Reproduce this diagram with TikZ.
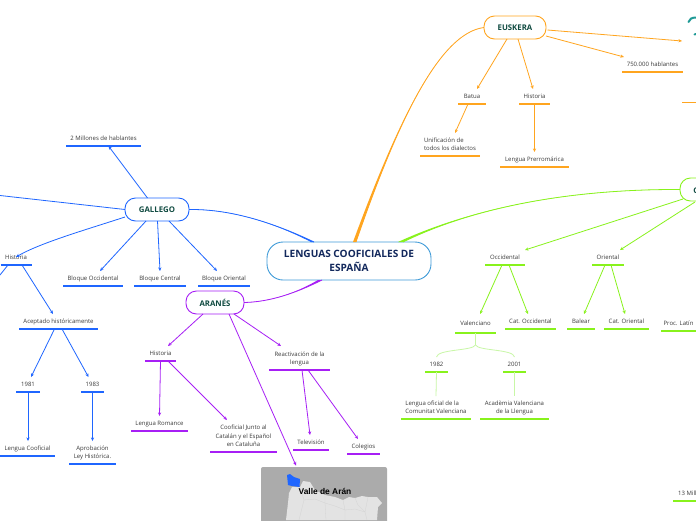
\documentclass[tikz,border=0pt]{standalone}
\usepackage{fontspec}
\setmainfont{Open Sans}
\newfontfamily\mapfont{Liberation Sans}
\usetikzlibrary{arrows.meta,calc}
\definecolor{cgal}{HTML}{1F66FF}
\definecolor{car}{HTML}{A71FF5}
\definecolor{ceu}{HTML}{FFA51F}
\definecolor{ccat}{HTML}{88F21C}
\definecolor{clight}{HTML}{C8F7A6}
\definecolor{croot}{HTML}{3F9BD8}
\definecolor{trootc}{HTML}{12285C}
\definecolor{tsub}{HTML}{0F4A40}
\definecolor{tleaf}{HTML}{3A3A3A}
\definecolor{cteal}{HTML}{1F9A96}
\tikzset{
  leafn/.style={inner sep=0pt,outer sep=0pt,anchor=south,text=tleaf,font=\fontsize{6}{8.3}\selectfont},
  ul/.style={line width=1.4pt},
  conn/.style={-{Stealth[length=3.6pt,width=3.2pt]},line width=.8pt},
  plain/.style={line width=.8pt},
  thin link/.style={line width=.8pt,clight},
  subnode/.style={draw,fill=white,line width=.9pt,rounded corners=10.5pt,inner sep=0pt,outer sep=0pt,text=tsub,font=\fontsize{7.8}{9}\bfseries\selectfont},
  rootnode/.style={draw=croot,fill=white,line width=.9pt,rounded corners=16pt,inner sep=0pt,outer sep=0pt,text=trootc,align=center,font=\fontsize{10.1}{14}\bfseries\selectfont,minimum width=164pt,minimum height=38pt},
}
% [column]{name}{cx,underline y}{width}{height}{colour}{text}
\newcommand\leafbox[7][c]{%
  \node[leafn,minimum width=#4pt,minimum height=#5pt] (#2) at (#3) {\raisebox{-.5pt}[\height][\depth]{\begin{tabular}{@{}#1@{}}#7\end{tabular}}};
  \draw[ul,#6] (#2.south west) -- (#2.south east);
}
% colour, start, c1, c2, end1, end2
\newcommand\taper[6]{\fill[#1] (#2) .. controls (#3) and (#4) .. (#5) -- (#6) .. controls (#4) and (#3) .. (#2) -- cycle;
  \draw[#1,line width=.8pt] (#2) .. controls (#3) and (#4) .. (#6);}
\begin{document}
\begin{tikzpicture}[x=1pt,y=-1pt]
\useasboundingbox (0,0) rectangle (696,520);
\clip (0,0) rectangle (696,520);
\fill[white] (0,0) rectangle (696,520);

% main nodes
\node[rootnode] (root) at (349,261) {LENGUAS COOFICIALES DE\\ESPAÑA};
\node[subnode,draw=cgal,minimum width=64pt,minimum height=23pt] (gal) at (157,209.5) {GALLEGO};
\node[subnode,draw=car,minimum width=58pt,minimum height=23pt] (ara) at (215,302.5) {ARANÉS};
\node[subnode,draw=ceu,minimum width=62pt,minimum height=23pt] (eus) at (515,27.5) {EUSKERA};
\node[subnode,draw=ccat,minimum width=62pt,minimum height=23pt] (cat) at (711,189.5) {CATALÁN};

% tapered links to the root
\taper{cgal}{gal.east}{230,209}{272,222}{[xshift=-38]root.north}{[xshift=-35]root.north}
\taper{car}{ara.east}{270,302}{296,293}{[xshift=-31]root.south}{[xshift=-27]root.south}
\taper{ceu}{eus.west}{440,33}{398,120}{[xshift=4]root.north}{[xshift=7]root.north}
\taper{ccat}{cat.west}{565,189}{470,209}{[xshift=49]root.north}{[xshift=54]root.north}

% GALLEGO
\coordinate (galfar) at (0,195.5);
\coordinate (hisfar) at (0,275);
\draw[plain,cgal] (gal.west) -- (galfar);
\leafbox{millones}{103.5,146}{75}{15}{cgal}{2 Millones de hablantes}
\leafbox{hisg}{16,265}{31}{15}{cgal}{Historia}
\leafbox{bocc}{93,286}{60}{15}{cgal}{Bloque Occidental}
\leafbox{bcen}{160,286}{52}{15}{cgal}{Bloque Central}
\leafbox{bori}{224,286}{52}{15}{cgal}{Bloque Oriental}
\leafbox{acep}{58.5,329}{79}{15}{cgal}{Aceptado históricamente}
\leafbox{y81}{28,392}{24}{15}{cgal}{1981}
\leafbox{y83}{92.5,392}{23}{15}{cgal}{1983}
\leafbox{lcoof}{27.5,456}{55}{15}{cgal}{Lengua Cooficial}
\leafbox{aprob}{92.5,464}{47}{23}{cgal}{Aprobación\\Ley Histórica.}
\draw[conn,cgal] ([xshift=-9.5]gal.north) -- ([xshift=5]millones.south);
\draw[conn,cgal] ([yshift=-7.5]gal.west) .. controls (85,230) and (40,243) .. ([yshift=-7]hisg.north);
\draw[conn,cgal] ([xshift=-11]gal.south) -- ([xshift=7]bocc.north);
\draw[conn,cgal] ([xshift=.5]gal.south) -- (bcen.north);
\draw[conn,cgal] ([xshift=12]gal.south) -- ([xshift=-7]bori.north);
\draw[plain,cgal] ([xshift=-8]hisg.south) -- (hisfar);
\draw[conn,cgal] ([xshift=6]hisg.south) -- ([xshift=-5.5]acep.north);
\draw[conn,cgal] ([xshift=-4]acep.south) -- ([xshift=3]y81.north);
\draw[conn,cgal] ([xshift=3.5]acep.south) -- ([xshift=-4]y83.north);
\draw[conn,cgal] (y81.south) -- ([xshift=.5]lcoof.north);
\draw[conn,cgal] (y83.south) -- (aprob.north);

% ARANÉS
\leafbox{hisa}{160.5,361}{31}{15}{car}{Historia}
\leafbox{react}{299.5,370}{61}{24}{car}{Reactivación de la\\lengua}
\leafbox{lrom}{159.5,431}{57}{15}{car}{Lengua Romance}
\leafbox{coofc}{243.5,452}{67}{32}{car}{Cooficial Junto al\\Catalán y el Español\\en Cataluña}
\leafbox{tele}{311,450}{36}{15}{car}{Televisión}
\leafbox{coleg}{363.5,454}{33}{15}{car}{Colegios}

% map
\fill[black!33,rounded corners=2pt] (261,467) rectangle (387,530);
\fill[black!11] (286,520) -- (288,503) -- (289,493) -- (292,487) -- (300,487) -- (303,481) -- (310,482) -- (315,490) -- (325,495) -- (335,497) -- (343,500) -- (349,497) -- (355,498) -- (362,496) -- (368,497) -- (377,497) -- (382,503) -- (378,507) -- (377,520) -- cycle;
\draw[black!17,line width=.3pt] (300,487) -- (304,500) -- (299,520) (304,500) -- (315,499) -- (325,503) -- (326,520) (325,495) -- (325,503) -- (335,506) -- (345,510) -- (345,520) (343,500) -- (345,510) -- (355,509) -- (365,512) -- (367,520) (355,498) -- (358,505) -- (365,512) (368,497) -- (365,512);
\fill[cgal] (287,475) -- (290,474) -- (294,477) -- (300,479) -- (299.5,487) -- (292,486) -- (288,485) -- cycle;
\node[inner sep=0pt,text=black,font=\mapfont\fontsize{8.4}{10}\bfseries\selectfont] (maplabel) at (325,491) {Valle de Arán};
\coordinate (maptop) at (296,465.5);

\draw[conn,car] ([xshift=-12]ara.south) -- ([xshift=7.5]hisa.north);
\draw[conn,car] ([xshift=19]ara.south) -- ([xshift=-18.5]react.north);
\draw[conn,car] ([xshift=14]ara.south) -- (maptop);
\draw[conn,car] (hisa.south) -- (lrom.north);
\draw[conn,car] ([xshift=7.5]hisa.south) -- ([xshift=-16.5]coofc.north);
\draw[conn,car] ([xshift=2.5]react.south) -- ([xshift=-1]tele.north);
\draw[conn,car] ([xshift=8.5]react.south) -- ([xshift=-5.5]coleg.north);

% EUSKERA
\leafbox{batua}{472,104}{28}{15}{ceu}{Batua}
\leafbox{hise}{534.5,104}{31}{15}{ceu}{Historia}
\leafbox{hab}{652.5,72}{61}{15}{ceu}{750.000 hablantes}
\leafbox[l]{unif}{450,156}{60}{23}{ceu}{Unificación de\\todos los dialectos}
\leafbox{prerr}{534.5,167}{69}{15}{ceu}{Lengua Prerromárica}
\coordinate (farleft) at (682,102.5);
\coordinate (farright) at (696,102.5);
\draw[ul,ceu] (farleft) -- (farright);
\coordinate (logo) at (682,41);
\draw[conn,ceu] ([xshift=-8]eus.south) -- ([xshift=5]batua.north);
\draw[conn,ceu] ([xshift=3]eus.south) -- ([xshift=-1.5]hise.north);
\draw[conn,ceu] ([yshift=-8.5]eus.east) -- ([xshift=-28.5]hab.north);
\draw[conn,ceu] ([yshift=-2.5,xshift=1.5]eus.east) -- (logo);
\draw[conn,ceu] ([xshift=-4]batua.south) -- ([xshift=5]unif.north);
\draw[conn,ceu] (hise.south) -- (prerr.north);
\draw[cteal,line width=2pt,line cap=round] (688.5,22) .. controls (689,19) and (692,17.5) .. (696,17.5);
\draw[cteal,line width=2pt,line cap=round] (694.5,34.5) -- (696,34);

% CATALÁN
\leafbox{occ}{505,265}{40}{15}{ccat}{Occidental}
\leafbox{ori}{608,265}{32}{15}{ccat}{Oriental}
\leafbox{val}{475.5,333}{41}{19}{ccat}{Valenciano}
\leafbox{cocc}{530.5,329}{51}{15}{ccat}{Cat. Occidental}
\leafbox{bal}{581,329}{28}{15}{ccat}{Balear}
\leafbox{cori}{626.5,329}{45}{15}{ccat}{Cat. Oriental}
\leafbox{proc}{678.5,331}{35}{16}{ccat}{Proc. Latín}
\leafbox{y82}{436.5,372}{23}{15}{ccat}{1982}
\leafbox{y01}{514.5,372}{23}{15}{ccat}{2001}
\leafbox[l]{lof}{436,419}{70}{23}{ccat}{Lengua oficial de la\\Comunitat Valenciana}
\leafbox{acad}{514.5,419}{69}{23}{ccat}{Acadèmia Valenciana\\de la Llengua}
\leafbox{mill}{713,501}{80}{15}{ccat}{13 Millones de hablantes}
\draw[conn,ccat] ([xshift=-28,yshift=2]cat.south) -- ([xshift=20]occ.north);
\draw[conn,ccat] ([xshift=-16,yshift=-1]cat.south) -- ([xshift=12]ori.north);
\draw[conn,ccat] ([xshift=-3]occ.south) -- ([xshift=4.5]val.north);
\draw[conn,ccat] ([xshift=4]occ.south) -- ([xshift=-2.5]cocc.north);
\draw[conn,ccat] ([xshift=-3]ori.south) -- ([xshift=3]bal.north);
\draw[conn,ccat] ([xshift=3]ori.south) -- ([xshift=-1.5]cori.north);
\path (val.south) ++(0,12) coordinate (fork);
\draw[thin link] (val.south) -- (fork);
\draw[thin link] (fork) .. controls ($(fork)+(-3,6)$) and ($(y82.north)+(1,-8)$) .. (y82.north);
\draw[thin link] (fork) .. controls ($(fork)+(3,6)$) and ($(y01.north)+(-1,-8)$) .. (y01.north);
\draw[thin link] (y82.south) -- (lof.north);
\draw[thin link] (y01.south) -- (acad.north);
\end{tikzpicture}
\end{document}
